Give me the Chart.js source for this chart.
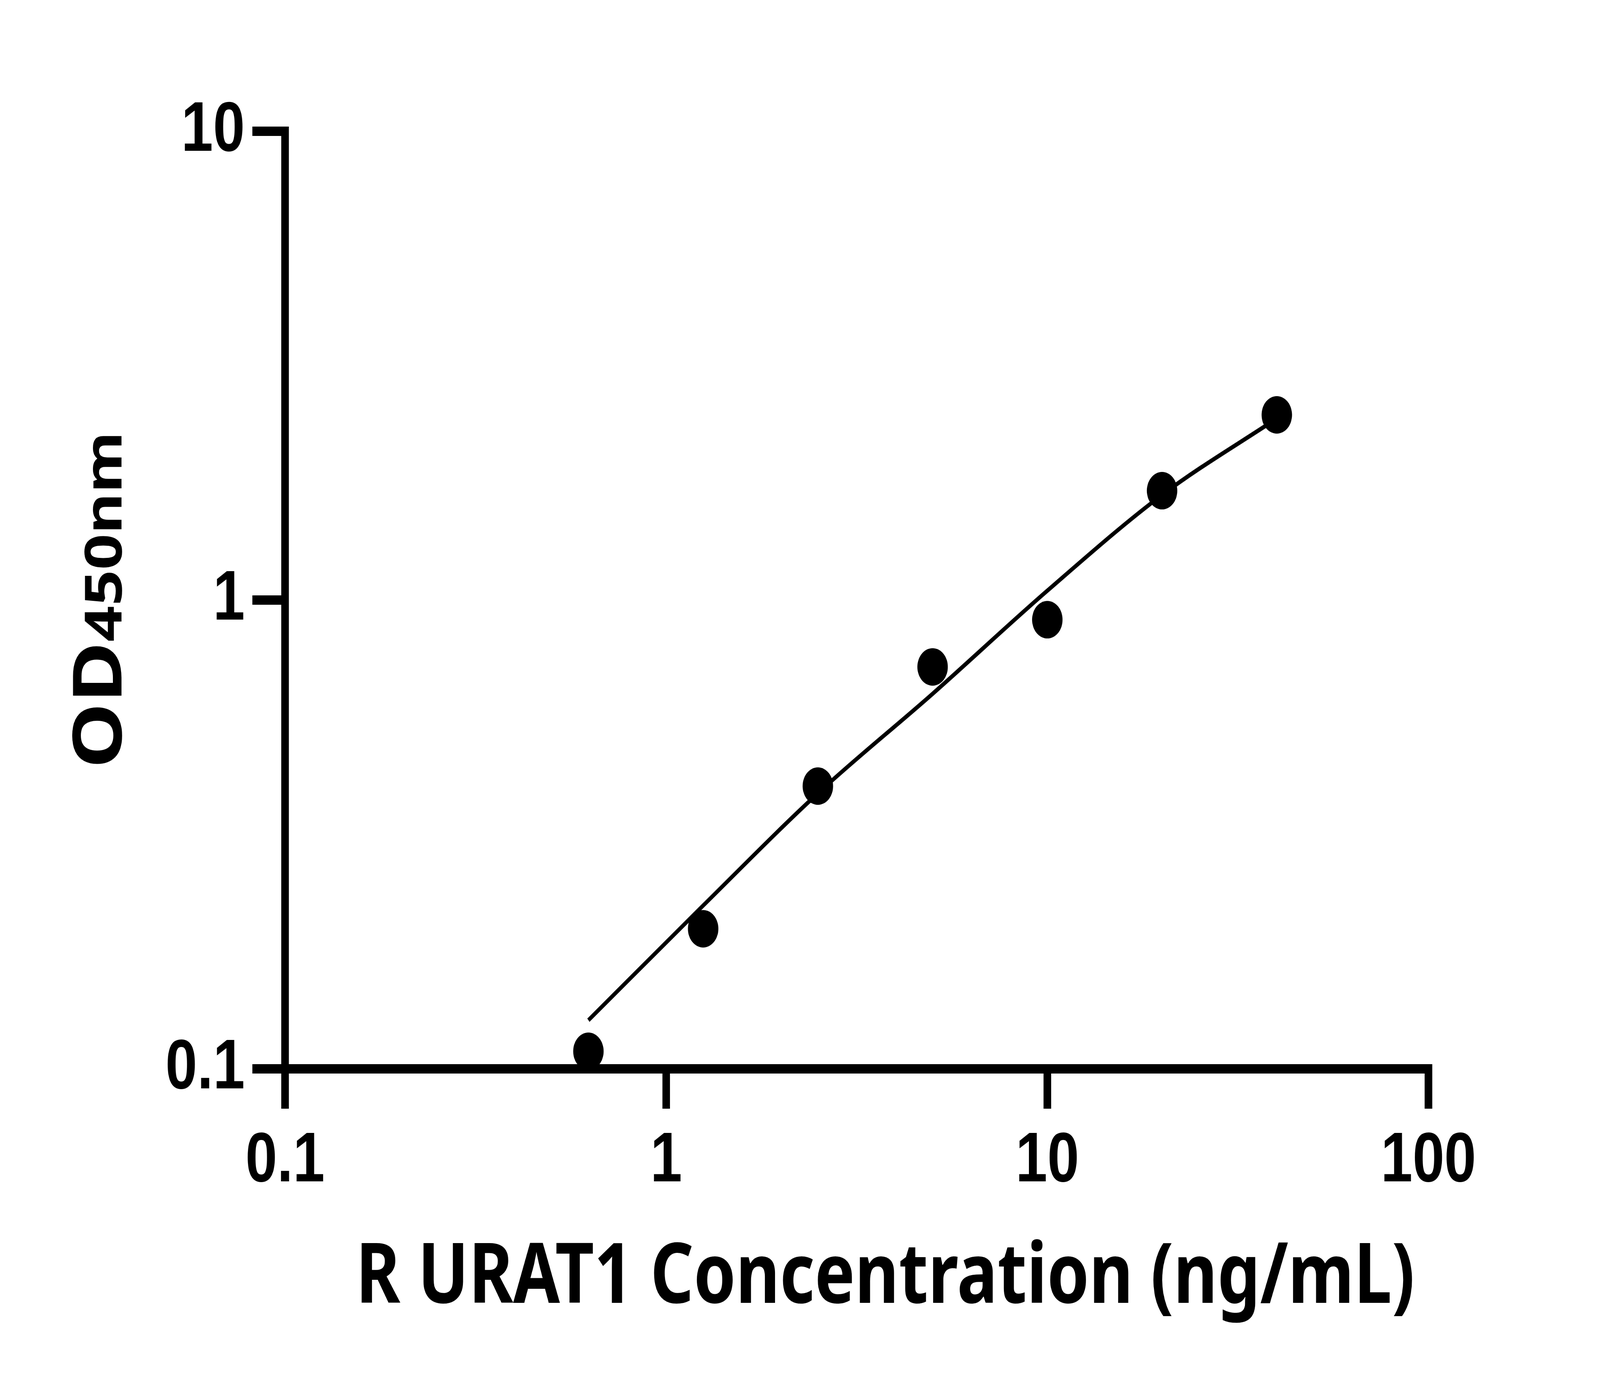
<!DOCTYPE html>
<html>
<head>
<meta charset="utf-8">
<script src="https://cdn.jsdelivr.net/npm/chart.js@4.4.1/dist/chart.umd.min.js"></script>
<style>
  html, body { margin: 0; padding: 0; background: #fff; overflow: hidden; }
  #wrap { position: relative; overflow: hidden; }
  #chart { position: absolute; left: 0; top: 0; display: block; transform-origin: 0 0; }
</style>
</head>
<body>
<div id="wrap"><canvas id="chart" width="5046" height="3576"></canvas></div>
<script>
// standards (ng/mL) and measured OD450
const conc = [0.625, 1.25, 2.5, 5, 10, 20, 40];
const od = [0.109, 0.199, 0.401, 0.720, 0.908, 1.711, 2.483];

// fitted curve
const fitConc = [0.625, 1.25, 2.5, 5, 10, 20, 40];
const fitOd = [0.127, 0.223, 0.387, 0.631, 1.047, 1.676, 2.44];

const xTicks = [0.1, 1, 10, 100];
const yTicks = [0.1, 1, 10];

const xTitle = "R URAT1 Concentration (ng/mL)";
const yTitleMain = "OD";
const yTitleSub = "450nm";

// the chart is laid out on a 5046 x 3576 canvas, then fitted to the window
const sx = window.innerWidth / 5046;
const sy = window.innerHeight / 3576;
const wrap = document.getElementById('wrap');
wrap.style.width = window.innerWidth + 'px';
wrap.style.height = window.innerHeight + 'px';
const canvas = document.getElementById('chart');
canvas.style.width = '5046px';
canvas.style.height = '3576px';
canvas.style.transform = 'scale(' + sx + ',' + sy + ')';

const tickFont = { family: "'Liberation Sans', Arial, sans-serif", size: 180, weight: 'bold' };

const titlesPlugin = {
    id: 'titles',
    afterDraw(chart) {
        const ctx = chart.ctx;
        ctx.save();
        ctx.fillStyle = '#000';
        ctx.textBaseline = 'alphabetic';

        // x title
        ctx.font = "bold 213px 'Noto Sans', 'Open Sans', sans-serif";
        ctx.textAlign = 'center';
        ctx.fillText(xTitle, 2792, 3335);

        // y title, rotated, "OD" bigger than "450nm"
        const area = chart.chartArea;
        const cy = (area.top + area.bottom) / 2;
        ctx.translate(383, cy);
        ctx.rotate(-Math.PI / 2);
        ctx.textAlign = 'left';
        ctx.font = "bold 213px 'Noto Sans', 'Open Sans', sans-serif";
        const w1 = ctx.measureText(yTitleMain).width;
        ctx.font = "bold 161px 'Noto Sans', 'Open Sans', sans-serif";
        const w2 = ctx.measureText(yTitleSub).width;
        let start = -(w1 + w2) / 2;
        ctx.font = "bold 213px 'Noto Sans', 'Open Sans', sans-serif";
        ctx.fillText(yTitleMain, start, 0);
        ctx.font = "bold 161px 'Noto Sans', 'Open Sans', sans-serif";
        ctx.fillText(yTitleSub, start + w1, 0);
        ctx.restore();
    }
};

const chart = new Chart(canvas.getContext('2d'), {
    type: 'scatter',
    data: {
        datasets: [
            {
                label: 'fit',
                data: fitConc.map((c, i) => ({ x: c, y: fitOd[i] })),
                showLine: true,
                borderColor: '#000',
                borderWidth: 11,
                pointRadius: 0,
                cubicInterpolationMode: 'monotone',
                fill: false,
                order: 2
            },
            {
                label: 'OD450',
                data: conc.map((c, i) => ({ x: c, y: od[i] })),
                showLine: false,
                backgroundColor: '#000',
                borderColor: '#000',
                borderWidth: 0,
                pointRadius: 48,
                pointHoverRadius: 48,
                order: 1
            }
        ]
    },
    options: {
        responsive: false,
        devicePixelRatio: 1,
        animation: false,
        layout: {
            padding: { left: 0, top: 336, right: 541, bottom: 540 }
        },
        plugins: {
            legend: { display: false },
            tooltip: { enabled: false }
        },
        scales: {
            x: {
                type: 'logarithmic',
                min: 0.1,
                max: 100,
                afterBuildTicks: (scale) => { scale.ticks = xTicks.map(v => ({ value: v })); },
                afterFit: (scale) => { scale.height = 300; },
                border: { display: true, color: '#000', width: 24 },
                grid: {
                    drawOnChartArea: false,
                    drawTicks: true,
                    tickLength: 102,
                    tickWidth: 24,
                    tickColor: '#000',
                    lineWidth: 24,
                    color: '#000'
                },
                ticks: {
                    color: '#000',
                    font: tickFont,
                    padding: 28,
                    maxRotation: 0,
                    autoSkip: false,
                    callback: (v) => String(v)
                }
            },
            y: {
                type: 'logarithmic',
                min: 0.1,
                max: 10,
                afterBuildTicks: (scale) => { scale.ticks = yTicks.map(v => ({ value: v })); },
                afterFit: (scale) => { scale.width = 899; },
                border: { display: true, color: '#000', width: 24 },
                grid: {
                    drawOnChartArea: false,
                    drawTicks: true,
                    tickLength: 103,
                    tickWidth: 24,
                    tickColor: '#000',
                    lineWidth: 24,
                    color: '#000'
                },
                ticks: {
                    color: '#000',
                    font: tickFont,
                    padding: 24,
                    autoSkip: false,
                    callback: (v) => String(v)
                }
            }
        }
    },
    plugins: [titlesPlugin]
});
</script>
</body>
</html>
